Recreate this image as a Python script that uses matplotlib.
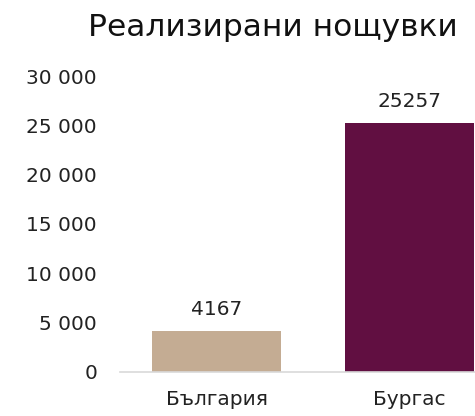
import matplotlib.pyplot as plt
from matplotlib.ticker import FuncFormatter

plt.rcParams['font.family'] = ['DejaVu Sans']

categories = ['България', 'Бургас']
nights = [4167, 25257]
colors = ['#C4AC93', '#610F41']
y_ticks = [0, 5000, 10000, 15000, 20000, 25000, 30000]

W, H = 475, 416
fig = plt.figure(figsize=(W / 100, H / 100), dpi=100)
# plot area runs past the right edge, so the second bar is cut off
ax = fig.add_axes([120 / W, (H - 371.5) / H, 386 / W, 295 / H])

x = range(len(categories))
bars = ax.bar(x, nights, width=0.67, color=colors)
for rect, v in zip(bars, nights):
    ax.annotate(str(v), (rect.get_x() + rect.get_width() / 2, v),
                xytext=(0, 11.5), textcoords='offset points',
                ha='center', va='baseline', fontsize=14.5, color='#222222')

ax.set_xlim(-0.5, 1.5)
ax.set_ylim(0, 30000)
ax.set_yticks(y_ticks)
ax.yaxis.set_major_formatter(FuncFormatter(lambda v, p: f'{int(v):,}'.replace(',', ' ')))
ax.set_xticks(list(x))
ax.set_xticklabels(categories)
ax.tick_params(axis='y', length=0, pad=16.5, labelsize=14.5, labelcolor='#222222')
ax.tick_params(axis='x', length=0, pad=13, labelsize=14.5, labelcolor='#222222')

for s in ['top', 'right', 'left']:
    ax.spines[s].set_visible(False)
ax.spines['bottom'].set_color('#D9D9D9')
ax.spines['bottom'].set_linewidth(1.2)

fig.text(273 / W, 1 - 24 / H, 'Реализирани нощувки', ha='center', va='center_baseline',
         fontsize=22.5, color='#111111')

fig.savefig('out.png', dpi=100)
